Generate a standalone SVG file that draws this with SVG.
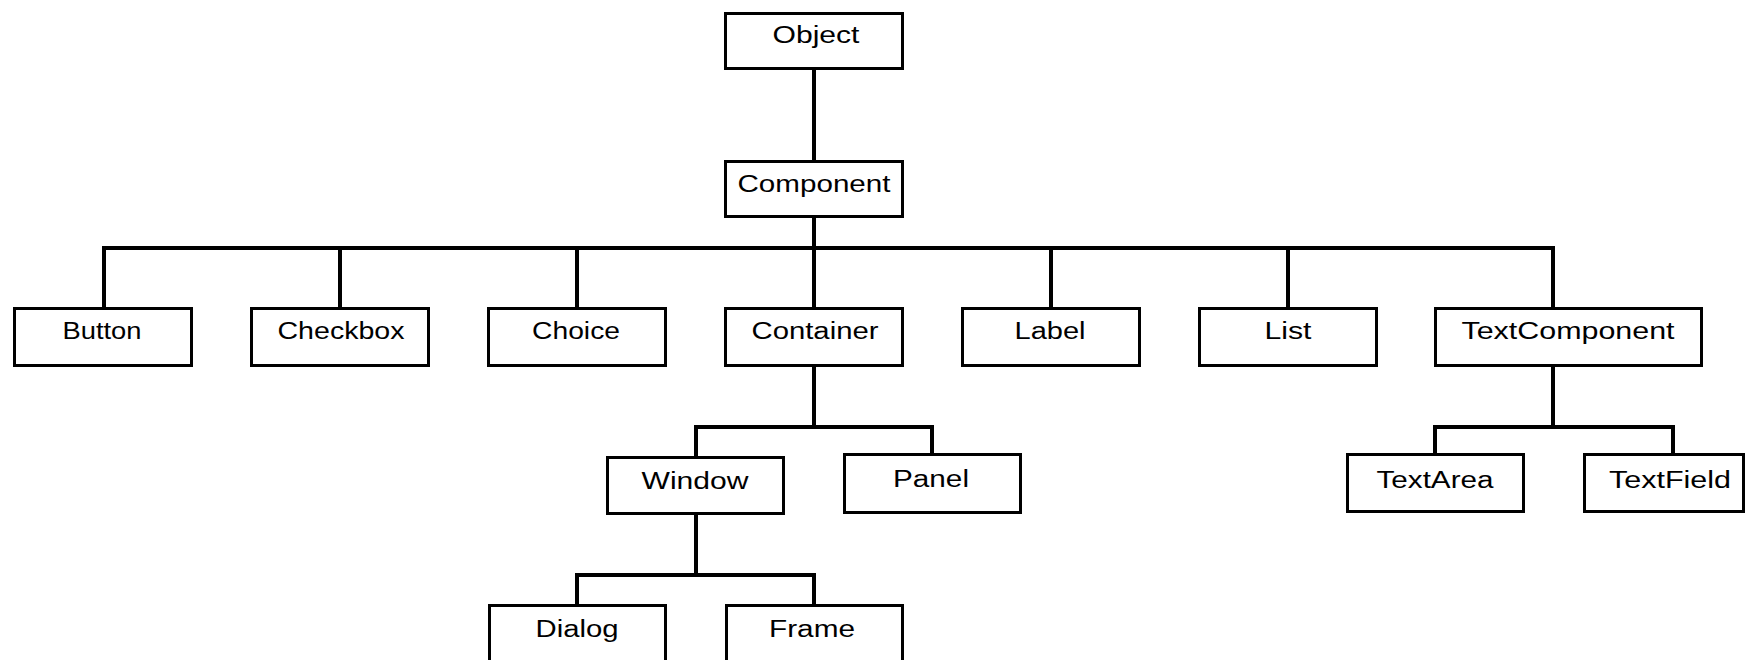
<svg xmlns="http://www.w3.org/2000/svg" width="1746" height="660" viewBox="0 0 1746 660">
<style>
.box{fill:#fff;stroke:#000;stroke-width:3}
.lbl{font-family:"Liberation Sans",Arial,sans-serif;font-size:23px;fill:#000;text-anchor:middle}
.conn{fill:none;stroke:#000;stroke-width:4;stroke-linejoin:miter}
</style>
<rect width="1746" height="660" fill="#fff"/>
<g id="connectors" class="conn">
<path d="M814 70 V160"/>
<path d="M814 218 V307"/>
<path d="M104 307 V248 H1553 V307"/>
<path d="M340 248 V307"/>
<path d="M577 248 V307"/>
<path d="M1051 248 V307"/>
<path d="M1288 248 V307"/>
<path d="M814 367 V427"/>
<path d="M696 456 V427 H932 V453"/>
<path d="M1553 367 V427"/>
<path d="M1435 453 V427 H1673 V453"/>
<path d="M696 515 V575"/>
<path d="M577 604 V575 H814 V604"/>
</g>
<g id="Object"><rect class="box" x="725.5" y="13.5" width="177" height="55"/><text class="lbl" x="816" y="43" textLength="87" lengthAdjust="spacingAndGlyphs">Object</text></g>
<g id="Component"><rect class="box" x="725.5" y="161.5" width="177" height="55"/><text class="lbl" x="814" y="192" textLength="153" lengthAdjust="spacingAndGlyphs">Component</text></g>
<g id="Button"><rect class="box" x="14.5" y="308.5" width="177" height="57"/><text class="lbl" x="102" y="339" textLength="79" lengthAdjust="spacingAndGlyphs">Button</text></g>
<g id="Checkbox"><rect class="box" x="251.5" y="308.5" width="177" height="57"/><text class="lbl" x="341" y="339" textLength="127" lengthAdjust="spacingAndGlyphs">Checkbox</text></g>
<g id="Choice"><rect class="box" x="488.5" y="308.5" width="177" height="57"/><text class="lbl" x="576" y="339" textLength="88" lengthAdjust="spacingAndGlyphs">Choice</text></g>
<g id="Container"><rect class="box" x="725.5" y="308.5" width="177" height="57"/><text class="lbl" x="815" y="339" textLength="127" lengthAdjust="spacingAndGlyphs">Container</text></g>
<g id="Label"><rect class="box" x="962.5" y="308.5" width="177" height="57"/><text class="lbl" x="1050" y="339" textLength="71" lengthAdjust="spacingAndGlyphs">Label</text></g>
<g id="List"><rect class="box" x="1199.5" y="308.5" width="177" height="57"/><text class="lbl" x="1288" y="339" textLength="47" lengthAdjust="spacingAndGlyphs">List</text></g>
<g id="TextComponent"><rect class="box" x="1435.5" y="308.5" width="266" height="57"/><text class="lbl" x="1568" y="339" textLength="213" lengthAdjust="spacingAndGlyphs">TextComponent</text></g>
<g id="Window"><rect class="box" x="607.5" y="457.5" width="176" height="56"/><text class="lbl" x="695" y="489" textLength="107" lengthAdjust="spacingAndGlyphs">Window</text></g>
<g id="Panel"><rect class="box" x="844.5" y="454.5" width="176" height="58"/><text class="lbl" x="931" y="487" textLength="76" lengthAdjust="spacingAndGlyphs">Panel</text></g>
<g id="TextArea"><rect class="box" x="1347.5" y="454.5" width="176" height="57"/><text class="lbl" x="1435" y="488" textLength="117" lengthAdjust="spacingAndGlyphs">TextArea</text></g>
<g id="TextField"><rect class="box" x="1584.5" y="454.5" width="159" height="57"/><text class="lbl" x="1670" y="488" textLength="122" lengthAdjust="spacingAndGlyphs">TextField</text></g>
<g id="Dialog"><rect class="box" x="489.5" y="605.5" width="176" height="60"/><text class="lbl" x="577" y="637" textLength="83" lengthAdjust="spacingAndGlyphs">Dialog</text></g>
<g id="Frame"><rect class="box" x="726.5" y="605.5" width="176" height="60"/><text class="lbl" x="812" y="637" textLength="86" lengthAdjust="spacingAndGlyphs">Frame</text></g>
</svg>
